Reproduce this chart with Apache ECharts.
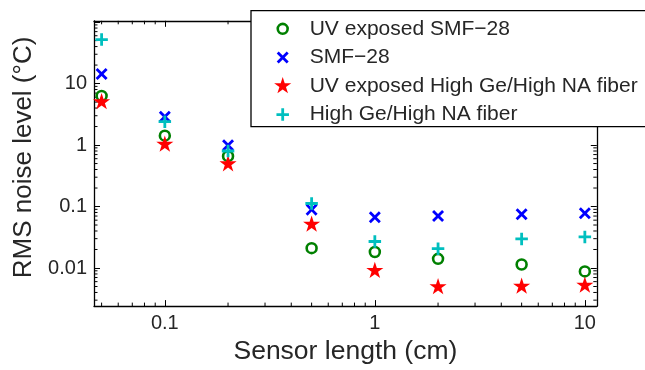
<!DOCTYPE html>
<html>
<head>
<meta charset="utf-8">
<script src="https://cdn.jsdelivr.net/npm/echarts@6/dist/echarts.min.js"></script>
<style>
  html, body { margin: 0; padding: 0; background: #fff; }
  #chart { width: 645px; height: 370px; }
</style>
</head>
<body>
<div id="chart"></div>
<script>
// sensor length (cm)
const lengths = [0.05, 0.1, 0.2, 0.5, 1, 2, 5, 10];
// RMS noise level (°C)
const uvSmf28 = [6.3, 1.42, 0.66, 0.021, 0.0182, 0.0141, 0.0114, 0.0088];
const smf28 = [14.3, 2.88, 0.99, 0.089, 0.067, 0.070, 0.075, 0.078];
const uvHighGe = [5.0, 1.02, 0.49, 0.051, 0.009, 0.0049, 0.0050, 0.0052];
const highGe = [52, 2.4, 0.80, 0.112, 0.027, 0.0206, 0.0297, 0.032];

const seriesNames = [
  'UV exposed SMF\u221228',
  'SMF\u221228',
  'UV exposed High Ge/High NA fiber',
  'High Ge/High NA fiber',
];

const xTickLabels = ['0.1', '1', '10'];
const yTickLabels = ['0.01', '0.1', '1', '10'];
const xMinorTicks = [0.05, 0.06, 0.07, 0.08, 0.09, 0.2, 0.3, 0.4, 0.5, 0.6, 0.7, 0.8, 0.9,
  2, 3, 4, 5, 6, 7, 8, 9];
const yMinorTicks = [0.003, 0.004, 0.005, 0.006, 0.007, 0.008, 0.009,
  0.02, 0.03, 0.04, 0.05, 0.06, 0.07, 0.08, 0.09,
  0.2, 0.3, 0.4, 0.5, 0.6, 0.7, 0.8, 0.9,
  2, 3, 4, 5, 6, 7, 8, 9, 20, 30, 40, 50, 60, 70, 80, 90];

const FONT = '"Liberation Sans", Arial, Helvetica, sans-serif';
const TEXT = '#262626';

// marker shapes as filled paths, padded to a BxB box
const f = (n) => +n.toFixed(3);
const pad = (B) => `M0,0M${B},${B}`;
const poly = (pts, o) => 'M' + pts.map((p) => f(p[0] + o) + ',' + f(p[1] + o)).join('L') + 'Z';

function ringPath(B, s, t) {
  const c = B / 2, R = s / 2, r = R - t;
  return pad(B) +
    `M${f(c - R)},${f(c)}A${f(R)},${f(R)},0,0,1,${f(c + R)},${f(c)}A${f(R)},${f(R)},0,0,1,${f(c - R)},${f(c)}Z` +
    `M${f(c - r)},${f(c)}A${f(r)},${f(r)},0,0,0,${f(c + r)},${f(c)}A${f(r)},${f(r)},0,0,0,${f(c - r)},${f(c)}Z`;
}
function crossPath(B, s, t) {
  const o = (B - s) / 2, d = t / Math.SQRT2, m = s / 2;
  return pad(B) + poly([[d, 0], [m, m - d], [s - d, 0], [s, d], [m + d, m], [s, s - d],
    [s - d, s], [m, m + d], [d, s], [0, s - d], [m - d, m], [0, d]], o);
}
function plusPath(B, s, t) {
  const o = (B - s) / 2, a = s / 2 - t / 2, b = s / 2 + t / 2;
  return pad(B) + poly([[a, 0], [b, 0], [b, a], [s, a], [s, b], [b, b], [b, s], [a, s],
    [a, b], [0, b], [0, a], [a, a]], o);
}
function starPath(B, s) {
  const c = B / 2, R = s / 2, r = R * 0.382, pts = [];
  for (let i = 0; i < 10; i++) {
    const ang = (-90 + 36 * i) * Math.PI / 180, rad = i % 2 ? r : R;
    pts.push([c + rad * Math.cos(ang), c + rad * Math.sin(ang)]);
  }
  return pad(B) + poly(pts, 0);
}

const markers = [
  { data: uvSmf28, color: '#008000', size: 12.5, symbol: ringPath(12.5, 12.5, 2.6), icon: ringPath(18, 12.5, 2.6) },
  { data: smf28, color: '#0000ff', size: 12, symbol: crossPath(12, 12, 2.8), icon: crossPath(18, 12, 2.8) },
  { data: uvHighGe, color: '#ff0000', size: 18, symbol: starPath(18, 18), icon: starPath(18, 18) },
  { data: highGe, color: '#00bfbf', size: 12.5, symbol: plusPath(12.5, 12.5, 2.8), icon: plusPath(18, 12.5, 2.8) },
];

function logLabel(allowed) {
  return (v) => {
    const e = Math.log10(v);
    if (Math.abs(e - Math.round(e)) > 1e-6) return '';
    const r = Math.round(e);
    const s = r >= 0 ? String(Math.pow(10, r)) : Math.pow(10, r).toFixed(-r);
    return allowed.includes(s) ? s : '';
  };
}

function minorTicks(isX) {
  return (params, api) => {
    const cs = params.coordSys;
    const len = 3.5;
    const style = { stroke: '#000', lineWidth: 1 };
    if (isX) {
      const x = api.coord([api.value(0), 1])[0];
      const yb = cs.y + cs.height;
      return { type: 'group', children: [
        { type: 'line', shape: { x1: x, y1: yb, x2: x, y2: yb - len }, style },
        { type: 'line', shape: { x1: x, y1: cs.y, x2: x, y2: cs.y + len }, style },
      ] };
    }
    const y = api.coord([1, api.value(1)])[1];
    const xr = cs.x + cs.width;
    return { type: 'group', children: [
      { type: 'line', shape: { x1: cs.x, y1: y, x2: cs.x + len, y2: y }, style },
      { type: 'line', shape: { x1: xr, y1: y, x2: xr - len, y2: y }, style },
    ] };
  };
}

const axisLine = { show: true, onZero: false, lineStyle: { color: '#000', width: 1.3 } };
const axisTick = { show: true, inside: true, length: 6, lineStyle: { color: '#000', width: 1 } };
const X_MIN = 0.046, X_MAX = 11.4, Y_MIN = 0.0024, Y_MAX = 105;

const baseX = { type: 'log', logBase: 10, min: X_MIN, max: X_MAX, axisLine, axisTick, splitLine: { show: false } };
const baseY = { type: 'log', logBase: 10, min: Y_MIN, max: Y_MAX, axisLine, axisTick, splitLine: { show: false } };

const chart = echarts.init(document.getElementById('chart'), null, { renderer: 'canvas' });

chart.setOption({
  animation: false,
  backgroundColor: '#fff',
  textStyle: { fontFamily: FONT },
  grid: { left: 94, right: 48.2, top: 20.8, bottom: 57.3, containLabel: false },
  // legend frame runs past the right edge of the figure
  graphic: [{
    type: 'rect', z: 3, silent: true,
    shape: { x: 251, y: 10.7, width: 440, height: 116 },
    style: { fill: '#fff', stroke: '#000', lineWidth: 1.3 },
  }],
  legend: {
    z: 5,
    orient: 'vertical',
    left: 251,
    top: 10.7,
    padding: [7.6, 10, 5.7, 22.7],
    itemWidth: 18,
    itemHeight: 18,
    itemGap: 7.6,
    selectedMode: false,
    data: seriesNames.map((name, i) => ({ name, icon: 'path://' + markers[i].icon })),
    formatter: (name) => '{gap| }' + name,
    textStyle: {
      fontFamily: FONT, fontSize: 21, color: TEXT, lineHeight: 20,
      rich: { gap: { width: 13, lineHeight: 20 } },
    },
  },
  xAxis: [
    Object.assign({}, baseX, {
      position: 'bottom',
      name: 'Sensor length (cm)',
      nameLocation: 'middle',
      nameGap: 29,
      nameTextStyle: { fontFamily: FONT, fontSize: 26.5, color: TEXT },
      axisLabel: { show: true, margin: 7, fontFamily: FONT, fontSize: 20, color: TEXT,
        formatter: logLabel(xTickLabels), showMinLabel: true, showMaxLabel: true },
    }),
    Object.assign({}, baseX, { position: 'top', axisLabel: { show: false } }),
  ],
  yAxis: [
    Object.assign({}, baseY, {
      position: 'left',
      name: 'RMS noise level (\u00b0C)',
      nameLocation: 'middle',
      nameGap: 52,
      nameTextStyle: { fontFamily: FONT, fontSize: 26, color: TEXT, padding: [0, 0, 0, 12] },
      axisLabel: { show: true, margin: 7, fontFamily: FONT, fontSize: 20, color: TEXT,
        formatter: logLabel(yTickLabels) },
    }),
    Object.assign({}, baseY, { position: 'right', axisLabel: { show: false } }),
  ],
  series: [
    {
      type: 'custom', name: 'xminor', silent: true, xAxisIndex: 0, yAxisIndex: 0,
      renderItem: minorTicks(true), data: xMinorTicks.map((v) => [v, 1]), clip: false,
    },
    {
      type: 'custom', name: 'yminor', silent: true, xAxisIndex: 0, yAxisIndex: 0,
      renderItem: minorTicks(false), data: yMinorTicks.map((v) => [1, v]), clip: false,
    },
  ].concat(markers.map((m, i) => ({
    type: 'scatter',
    name: seriesNames[i],
    xAxisIndex: 0,
    yAxisIndex: 0,
    symbol: 'path://' + m.symbol,
    symbolSize: m.size,
    symbolKeepAspect: true,
    itemStyle: { color: m.color, opacity: 1, borderWidth: 0 },
    emphasis: { disabled: true },
    data: lengths.map((x, j) => [x, m.data[j]]),
  }))),
});
</script>
</body>
</html>
